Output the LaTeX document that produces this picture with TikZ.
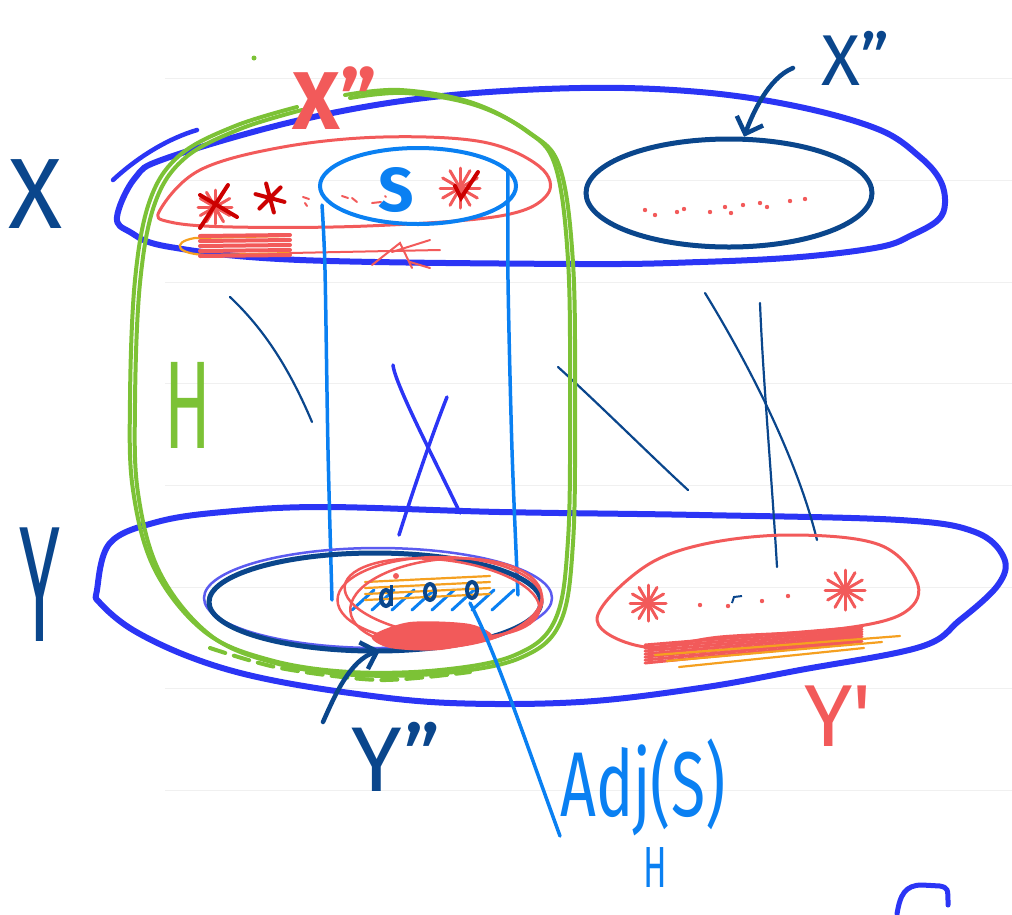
\documentclass[tikz,border=0pt]{standalone}
\usepackage{fontspec}
\setmainfont{Fira Sans}
\usepackage{graphicx}
\usetikzlibrary{arrows.meta, shapes.geometric}
\definecolor{cBlue}{HTML}{2B35F5}
\definecolor{cNavy}{HTML}{0A468C}
\definecolor{cSky}{HTML}{0A80F2}
\definecolor{cGreen}{HTML}{7CC236}
\definecolor{cRed}{HTML}{F25A5A}
\definecolor{cDeepRed}{HTML}{CC0000}
\definecolor{cOrange}{HTML}{F5A020}
\definecolor{cLilac}{HTML}{5B5BF0}
\tikzset{
  paperline/.style={draw=black!6, line width=1pt},
  bigloop/.style={draw=cBlue, line width=6pt, line cap=round, line join=round},
  hloop/.style={draw=cGreen, line width=4pt, line cap=round, line join=round},
  redring/.style={draw=cRed, line width=3pt, line join=round},
  setring/.style={ellipse, draw=cNavy, line width=5pt, inner sep=0pt},
  sring/.style={ellipse, draw=cSky, line width=4pt, inner sep=0pt},
  adjring/.style={ellipse, draw=cRed, line width=2.5pt, inner sep=0pt},
  lilacring/.style={draw=cLilac, line width=2.5pt},
  cylline/.style={draw=cSky, line width=3.5pt, line cap=round},
  edgeline/.style={draw=cNavy, line width=2.2pt, line cap=round},
  crossline/.style={draw=cBlue, line width=3.5pt, line cap=round},
  pointer/.style={-{Straight Barb[length=14pt, width=28pt]}, draw=cNavy,
    line width=4.5pt, line cap=round},
  skyline/.style={draw=cSky, line width=3.5pt, line cap=round},
  splat/.style={draw=cRed, line width=3pt, line cap=round},
  darksplat/.style={draw=cDeepRed, line width=4pt, line cap=round},
  scrib/.style={draw=cRed, line width=4pt, line cap=round},
  thinscrib/.style={draw=cRed, line width=2pt, line cap=round},
  orangescrib/.style={draw=cOrange, line width=2.2pt, line cap=round},
  hatch/.style={draw=cSky, line width=3pt, line cap=round},
  tag/.style={inner sep=0pt, text=cNavy},
}

\begin{document}
\begin{tikzpicture}[x=1pt, y=-1pt]
  \useasboundingbox (0,0) rectangle (1012,914);

  % ----------------------------------------------------------------
  % Paper rules
  % ----------------------------------------------------------------
  \foreach \ly in {78,180,282,383,485,587,688,790}
    \draw[paperline] (165,\ly) -- (1012,\ly);

  % ----------------------------------------------------------------
  % The two sides X and Y
  % ----------------------------------------------------------------
  \draw[bigloop] plot[smooth cycle, tension=0.6] coordinates {(117,217) (135,178) (167,158)
    (300,120) (433,97) (580,88) (700,92) (800,107) (880,130) (920,157) (940,180)
    (945,203) (938,220) (912,235) (880,247) (800,257) (700,262) (580,264) (300,260)
    (170,247) (130,232)};
  \draw[bigloop, line width=4.5pt] (113,180) .. controls (140,155) and (170,138) .. (197,130);

  \draw[bigloop] plot[smooth cycle, tension=0.6] coordinates {(97,590) (110,543) (157,522)
    (223,512) (323,507) (500,512) (700,515) (900,520) (975,532) (1004,558) (998,585)
    (960,620) (920,647) (800,670) (700,688) (580,702) (450,703) (350,693) (257,677)
    (190,657) (133,630) (100,603)};

  \node[tag, font=\fontsize{100}{100}\selectfont] (xlabel) at (36,194) {X};
  \node[tag, font=\fontsize{165}{165}\selectfont] (ylabel) at (40,585) {\scalebox{0.45}[1]{Y}};

  % ----------------------------------------------------------------
  % Edges between X and Y
  % ----------------------------------------------------------------
  \draw[edgeline] (230,297) .. controls (265,330) and (290,370) .. (312,422);
  \draw[edgeline] (558,367) .. controls (600,405) and (650,455) .. (688,490);
  \draw[edgeline] (705,293) .. controls (740,350) and (795,450) .. (817,540);
  \draw[edgeline] (760,303) .. controls (763,380) and (772,480) .. (777,567);
  \draw[crossline] (393,365) .. controls (395,385) and (440,470) .. (460,513);
  \draw[crossline] (447,397) .. controls (430,440) and (410,500) .. (399,535);

  % ----------------------------------------------------------------
  % X' (red) with its marked vertices
  % ----------------------------------------------------------------
  \draw[redring] plot[smooth cycle, tension=0.6] coordinates {(160,210) (200,170) (283,147)
    (383,137) (483,142) (540,167) (547,195) (500,216) (367,226) (233,227) (170,222)};

  \foreach \px/\py/\r in {215/207/17, 460/188/20, 648/603/18, 845/590/20}
    \foreach \a in {0,30,...,150}
      \draw[splat] (\px,\py) ++(\a:\r) -- ++(\a+180:2*\r);
  \draw[darksplat] (200,195) -- (237,217);
  \draw[darksplat] (228,185) -- (200,228);
  \foreach \a in {0,60,120}
    \draw[darksplat] (270,198) ++(\a+15:15) -- ++(\a+195:30);
  \draw[darksplat] (455,186) -- (461,198) -- (478,172);

  \foreach \ax/\ay/\bx/\by in {303/197/309/199, 305/203/307/206, 342/196/348/198,
      352/198/357/202, 372/203/381/202, 385/196/386/197}
    \draw[thinscrib] (\ax,\ay) -- (\bx,\by);

  % scribble under X'
  \draw[orangescrib] (285,236) -- (195,238) .. controls (170,242) and (175,256) .. (215,255) -- (290,253);
  \foreach \sy in {236,241,...,256}
    \draw[scrib] (200,\sy) -- (290,\sy-1);
  \draw[thinscrib] (290,253) -- (440,250);
  \draw[thinscrib] (372,265) -- (400,243) -- (412,268);
  \draw[thinscrib] (392,252) -- (430,240);
  \draw[thinscrib] (410,262) -- (430,268);

  % ----------------------------------------------------------------
  % S and the cylinder down to Y
  % ----------------------------------------------------------------
  \draw[cylline] plot[smooth] coordinates {(322,205) (325,270) (328,450) (332,600)};
  \draw[cylline] plot[smooth] coordinates {(508,170) (508,280) (512,450) (518,595)};
  \node[sring, minimum width=196pt, minimum height=76pt] (stop) at (418,186) {};
  \node[inner sep=0pt, text=cSky, font=\fontsize{62}{62}\selectfont\bfseries] (slabel) at (396,190) {S};

  % ----------------------------------------------------------------
  % X'' (navy) and its pointer
  % ----------------------------------------------------------------
  \node[setring, minimum width=286pt, minimum height=108pt] (xpp) at (729,193) {};
  \foreach \dx/\dy in {645/210, 655/215, 677/212, 684/209, 710/212, 725/207, 731/213,
      743/205, 760/203, 767/207, 790/201, 805/199}
    \fill[cRed] (\dx,\dy) circle [radius=2.2];
  \node[tag, font=\fontsize{72}{72}\selectfont] (xpplabel) at (856,58) {X"};
  \coordinate (xppfoot) at (793,68);
  \draw[pointer] (xppfoot) .. controls (768,78) and (752,115) .. (xpp.75);

  % ----------------------------------------------------------------
  % H (green)
  % ----------------------------------------------------------------
  \foreach \dx/\dy in {0/0, 5/3}
    \draw[hloop, shift={(\dx,\dy)}] plot[smooth, tension=0.6] coordinates {(297,107)
      (235,126) (180,155) (150,200) (135,280) (130,400) (133,490) (155,570) (205,632)
      (270,660) (350,672) (440,670) (515,655) (555,620) (568,540) (570,400) (568,260)
      (555,165) (525,130) (470,102) (400,90) (345,95)};
  \draw[hloop, dash pattern=on 16pt off 9pt] plot[smooth] coordinates {(210,648) (280,668) (380,680) (470,672)};
  \fill[cGreen] (254,58) circle [radius=2.5];
  \node[inner sep=0pt, text=cGreen, font=\fontsize{125}{125}\selectfont] (hlabel) at (188,405) {\scalebox{0.55}[1]{H}};

  \node[inner sep=0pt, text=cRed, font=\fontsize{82}{82}\selectfont\bfseries] (crossx) at (335,98) {X"};

  % ----------------------------------------------------------------
  % Y'' and Adj_H(S)
  % ----------------------------------------------------------------
  \draw[lilacring] (378,598) ellipse [x radius=174, y radius=50];
  \node[setring, minimum width=332pt, minimum height=98pt] (ypp) at (375,602) {};

  \foreach \hx in {352,372,...,492}
    \draw[hatch] (\hx,610) -- (\hx+22,590);
  \foreach \oy in {580,586,592,598}
    \draw[orangescrib] (365,\oy+2) -- (490,\oy-4);
  \node[adjring, minimum width=205pt, minimum height=86pt] (adjring) at (440,600) {};
  \draw[redring, line width=2.5pt, rotate around={-7:(442,598)}] (442,598) ellipse [x radius=98, y radius=38];
  \draw[redring, line width=2.5pt, rotate around={5:(446,603)}] (446,603) ellipse [x radius=96, y radius=44];
  \fill[cRed] plot[smooth cycle] coordinates {(372,636) (410,622) (470,624) (492,638) (440,650) (390,648)};
  \foreach \cx/\cy in {386/598, 430/592, 472/590}
    \draw[cNavy, line width=4pt] (\cx,\cy) ellipse [x radius=5, y radius=8];
  \draw[cNavy, line width=3pt] (391,585) -- (391,606);
  \fill[cRed] (396,576) circle [radius=3];

  \node[tag, font=\fontsize{92}{92}\selectfont] (ypplabel) at (396,757) {Y"};
  \coordinate (yppfoot) at (323,722);
  \draw[pointer, shorten >=-10pt] (yppfoot) .. controls (335,695) and (350,660) .. (ypp.265);

  \node[inner sep=0pt, anchor=south west, text=cSky, font=\fontsize{92}{92}\selectfont] (adjlabel) at (560,836) {\scalebox{0.68}[1]{Adj(S)}};
  \node[inner sep=0pt, text=cSky, font=\fontsize{58}{58}\selectfont] (adjsub) at (655,868) {\scalebox{0.6}[1]{H}};
  \coordinate (adjfoot) at (470,603);
  \draw[skyline] (adjfoot) .. controls (495,650) and (525,740) .. (adjlabel.south west);

  % ----------------------------------------------------------------
  % Y' (red)
  % ----------------------------------------------------------------
  \draw[redring] plot[smooth cycle, tension=0.6] coordinates {(597,620) (640,570) (700,545)
    (790,535) (880,545) (918,585) (900,615) (830,630) (720,637) (645,647)};
  \foreach \i in {0,3,...,18}
    \draw[scrib, line width=3pt] (645,645+\i) -- (862,627+0.8*\i);
  \foreach \i in {0,6,12}
    \draw[orangescrib] (655+2*\i,655+\i) -- (900-3*\i,636+\i);
  \foreach \dx/\dy in {700/605, 728/606, 762/601, 788/596}
    \fill[cRed] (\dx,\dy) circle [radius=2.2];
  \draw[cNavy, line width=2pt] (732,603) -- (734,597) -- (742,596);
  \node[inner sep=0pt, text=cRed, font=\fontsize{88}{88}\selectfont] (yplabel) at (838,716) {Y\textquotesingle};

  % stray stroke at the corner
  \draw[bigloop, line width=5pt] (897,914) .. controls (900,895) and (905,885) .. (922,885)
    -- (940,886) .. controls (948,888) .. (948,905);
\end{tikzpicture}
\end{document}
